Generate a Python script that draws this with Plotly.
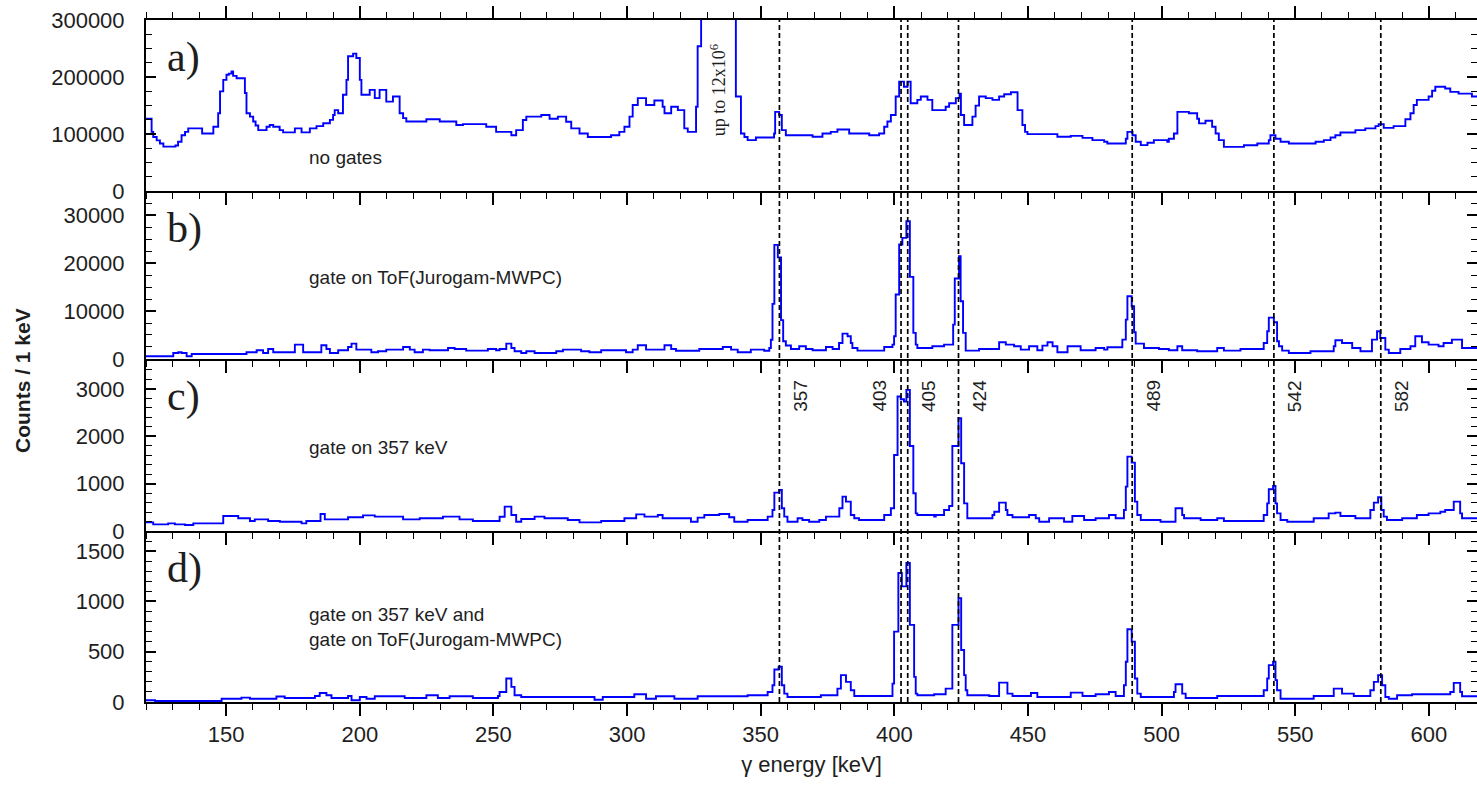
import plotly.graph_objects as go
from plotly.subplots import make_subplots

# ---------------- data (energy keV, counts) ----------------
spec_a = [(120, 127000), (122.1, 104000), (122.7, 95000), (124, 89000), (125.2, 83500), (126.5, 78000),
          (131, 80000), (132, 86500), (133.3, 98000), (134.6, 104000), (135.8, 110000), (141, 101000),
          (145.2, 113000), (147, 136500), (147.7, 175000), (148.9, 195000), (150.1, 204000), (151, 206000),
          (152, 210000), (152.6, 202000), (153.9, 198000), (157, 172000), (157.6, 136500), (158.9, 130600),
          (160.1, 122000), (161, 115000), (162, 107000), (165.1, 113000), (166.3, 116000), (167.6, 113000),
          (170, 107000), (171.3, 103000), (175.7, 110000), (178.2, 103000), (181.3, 110000), (183.8, 114000),
          (186.3, 119000), (188.8, 125000), (190, 133500), (190.6, 142000), (191.9, 136500), (193.7, 169000),
          (195, 195000), (195.6, 236500), (197.5, 241000), (198.7, 233500), (200, 195000), (200.6, 169000),
          (203.7, 177600), (205.6, 163000), (207.4, 177600), (209.9, 157000), (212.4, 166000), (214.9, 136500),
          (216.2, 128000), (217.4, 122000), (224.9, 126000), (229.9, 122000), (236.1, 116000), (238.6, 117600),
          (247.3, 113000), (251, 104000), (256.7, 98000), (258.5, 107000), (261, 124700), (262.3, 130600),
          (267.9, 133500), (271, 127000), (274.1, 130600), (277.2, 121800), (279.1, 110000), (282.2, 101000),
          (285.3, 95000), (294, 98000), (297.1, 104000), (299, 113000), (300.9, 130600), (302.1, 151000),
          (304, 163000), (307.1, 151000), (310.2, 159000), (313.3, 148000), (314, 136500), (316.5, 148000),
          (319, 142000), (321.4, 110000), (322.7, 104000), (325.8, 148000), (326.4, 254000), (327.7, 1200000),
          (340.7, 166000), (342.6, 101000), (343.9, 95000), (345.1, 89400), (348.2, 94000), (355, 101000),
          (355.4, 139000), (356.9, 133500), (357.9, 107000), (359.4, 98000), (369.4, 95300), (373.1, 101000),
          (376.2, 104000), (378.7, 108000), (383.1, 101000), (390.6, 98000), (394.3, 101000), (396.2, 113000),
          (397.4, 122000), (398.7, 133500), (400.5, 166000), (401.8, 192000), (403.6, 183000), (404.9, 192000),
          (406.1, 154000), (408.6, 160000), (409.9, 166000), (412.4, 160000), (414.2, 142000), (419.2, 148000),
          (420.5, 154000), (423, 163000), (424.4, 171000), (424.9, 133500), (426.1, 116000), (429.2, 130600),
          (430.4, 150000), (431.7, 166000), (434.2, 163000), (436.7, 160000), (439.2, 166000), (441.1, 170000),
          (443.6, 173500), (446.1, 142000), (447.9, 116000), (448.9, 104000), (449.8, 100000), (461, 95300),
          (466, 97000), (470.4, 93500), (474.1, 89400), (478.5, 86500), (479.7, 83500), (486.6, 92000),
          (487.2, 104000), (489.1, 98000), (490.3, 86500), (492.2, 80700), (494.7, 85000), (497.1, 89400),
          (502.1, 86500), (502.7, 92000), (504.6, 101000), (505.9, 139000), (510.2, 136500), (513.3, 127000),
          (514, 118800), (516.4, 123500), (518.9, 113000), (520.2, 101000), (521.4, 89400), (523.3, 77600),
          (530.8, 80500), (535.8, 83500), (540.1, 89400), (540.7, 98000), (542.6, 92000), (544.5, 86500),
          (547.6, 83500), (557.6, 86500), (560.7, 89400), (563.2, 94000), (565, 98000), (566.9, 102900),
          (572.5, 107000), (576.2, 110000), (580, 114000), (581.2, 117600), (583.1, 111000), (586.8, 114000),
          (591.2, 126000), (593.1, 136500), (594.3, 151000), (595.5, 160000), (599.9, 166000), (601.2, 176000),
          (602.4, 183000), (606.1, 180000), (608, 174000), (611.1, 171000), (616.1, 166000), (618, 166000)]

spec_b = [(120, 560), (130.2, 1250), (132.1, 1400), (133.3, 1250), (135.2, 560), (137.1, 1040), (157.6, 1400),
          (161.4, 1810), (163.8, 1250), (165.7, 2090), (167.6, 1390), (175.7, 2990), (178.8, 1390), (185.6, 2850),
          (187.5, 2090), (188.8, 1250), (191.9, 1810), (195.6, 2500), (196.9, 3200), (198.7, 1950), (204.3, 1390),
          (206.8, 1600), (209.9, 1950), (216.2, 2500), (218.7, 1950), (220.5, 1390), (223.6, 1950), (226.1, 1810),
          (233, 2300), (235.5, 2090), (239.8, 1740), (247.9, 2090), (251, 1810), (252.3, 2090), (254.8, 3200),
          (256.7, 2300), (257.9, 1600), (260.4, 1250), (262.3, 1600), (265.4, 1250), (273.5, 1600), (276, 1950),
          (282.8, 1600), (285.9, 1390), (290.3, 1810), (299.6, 1390), (302.1, 1950), (304, 2850), (307.1, 1950),
          (314, 2850), (316.5, 2090), (318.3, 1700), (327, 2090), (335.8, 2500), (338.9, 1950), (341.4, 1390),
          (346.3, 1950), (351.3, 1700), (353.2, 2300), (353.8, 4000), (354.4, 11500), (355.1, 23800),
          (356.4, 21200), (357.6, 8100), (358.4, 3700), (359.4, 2800), (361.3, 2090), (364.4, 2640),
          (366.9, 2090), (369.4, 1810), (374.4, 2500), (376.9, 2090), (379.3, 3340), (380.6, 5290),
          (382.5, 4730), (383.7, 3340), (384.3, 2300), (386.2, 1740), (396.2, 2500), (399.3, 2990),
          (399.9, 4730), (400.5, 13440), (401.8, 23870), (403, 25260), (404.5, 28740), (405.8, 17120),
          (407.1, 5430), (408, 2990), (408.6, 2300), (414.2, 2640), (418.6, 2990), (422, 7170), (422.6, 16780),
          (424.2, 21440), (424.8, 12040), (425.7, 5430), (426.7, 1740), (431.7, 2090), (439.2, 3480),
          (441.7, 2990), (444.8, 2640), (447.3, 1950), (450.4, 2640), (453.5, 1810), (455.4, 2780),
          (457.3, 3480), (459.2, 2640), (461, 1390), (464.8, 2640), (469.7, 1810), (475.3, 2300), (478.5, 1950),
          (479.7, 2440), (485.3, 4040), (486.6, 8210), (487.2, 13090), (488.8, 11000), (489.7, 5570),
          (490.3, 3200), (493.4, 2300), (499, 2090), (502.7, 1810), (505.9, 2640), (507.7, 1810), (513.3, 1600),
          (520.8, 2300), (523.3, 1740), (529.5, 2090), (538.2, 3340), (539.5, 5780), (540.1, 8630), (542, 7660),
          (543.2, 3700), (543.9, 2640), (545.1, 1740), (547.6, 1250), (555.7, 1600), (564.4, 2640), (565, 3900),
          (567.5, 3340), (571.3, 2300), (574.4, 1600), (578.7, 4040), (580.6, 5780), (581.8, 4380),
          (583.7, 1950), (585, 1250), (589.3, 2090), (593.1, 2640), (594.9, 4730), (597.4, 3480), (599.9, 2990),
          (603.6, 2640), (605.5, 3340), (608.6, 4040), (612.4, 2300), (618, 2300)]

spec_c = [(120, 183), (122.7, 141), (128.3, 162), (130.8, 141), (134.6, 127), (137.7, 162), (148.9, 317),
          (154.5, 268), (158.9, 211), (160.7, 246), (165.7, 211), (170.1, 197), (178.2, 162), (180, 211),
          (185.3, 359), (186.9, 246), (195.6, 289), (201.2, 331), (205.6, 303), (216.2, 246), (222.4, 268),
          (231.1, 303), (237.3, 246), (242.3, 211), (252.3, 300), (254.2, 514), (256.7, 338), (258.5, 197),
          (260.4, 253), (265.4, 303), (269.1, 268), (277.8, 232), (282.2, 183), (290.3, 211), (299, 268),
          (303.4, 352), (306.5, 303), (311.5, 338), (313.3, 268), (323.9, 197), (326.4, 282), (328.9, 338),
          (334.5, 359), (338.2, 289), (340.1, 197), (345.1, 232), (352.6, 303), (354.4, 444), (355.1, 810),
          (356.9, 866), (357.9, 479), (358.8, 303), (360, 197), (363.8, 268), (365.6, 232), (368.1, 197),
          (371.9, 232), (374.4, 303), (379.4, 479), (380.6, 725), (381.9, 620), (383.7, 338), (385, 268),
          (386.8, 232), (396.2, 338), (398.7, 479), (399.9, 1605), (401.2, 2837), (402.4, 2781), (403.6, 2732),
          (404.5, 2978), (405.8, 1795), (407.1, 796), (408, 373), (408.6, 338), (414.9, 303), (415.5, 338),
          (418.6, 444), (420.5, 528), (421.7, 1795), (424, 2380), (425, 1429), (426.1, 584), (427.3, 268),
          (436.7, 338), (437.4, 408), (439.2, 598), (441.7, 444), (442.3, 338), (444.2, 289), (450.4, 338),
          (452.9, 268), (454.2, 197), (457.9, 268), (463.5, 197), (466.6, 317), (471, 232), (475.3, 268),
          (480.3, 338), (482.8, 268), (485.9, 444), (486.6, 937), (487.2, 1570), (488.8, 1443), (490, 620),
          (490.9, 338), (492.2, 232), (499.6, 197), (505.2, 479), (507.7, 338), (508.4, 268), (514.6, 232),
          (520.8, 268), (523.3, 211), (538.2, 338), (539.5, 584), (540.1, 880), (541.7, 950), (542.6, 584),
          (543.2, 373), (544.5, 232), (547, 197), (556.9, 268), (562.5, 373), (565, 387), (566.9, 317),
          (572.5, 268), (578.1, 444), (579.4, 598), (581, 711), (582.2, 444), (583.1, 303), (584.3, 232),
          (590, 268), (595.5, 338), (599.9, 373), (604.3, 408), (606.1, 444), (609.3, 620), (611.7, 373),
          (612.4, 268), (618, 268)]

spec_d = [(120, 17), (123.4, 10), (148.3, 33), (155.7, 43), (158.9, 33), (168.8, 55), (171.9, 40), (183.2, 60),
          (185, 90), (187.5, 67), (189.4, 40), (195.6, 60), (196.9, 17), (200, 50), (202.5, 33), (205.6, 57),
          (216.8, 40), (224.9, 67), (229.2, 40), (233.6, 57), (242.3, 40), (251.7, 60), (252.3, 100),
          (254.8, 233), (256.7, 150), (257.9, 67), (260.4, 50), (287.8, 23), (290.9, 50), (302.7, 77),
          (307.1, 33), (310.8, 57), (317.7, 33), (326.4, 57), (345.1, 67), (352.6, 100), (354.4, 167),
          (355.1, 323), (356.7, 350), (357.9, 167), (358.8, 83), (360, 50), (372.5, 67), (378.7, 133),
          (380, 267), (381.9, 200), (383.7, 117), (385, 60), (399.3, 183), (399.9, 700), (401.5, 1283),
          (402.8, 1150), (404.5, 1383), (405.8, 767), (407.4, 250), (408, 83), (408.6, 67), (414.9, 77),
          (419.2, 133), (421.7, 767), (424, 1033), (425, 517), (426.1, 267), (426.7, 117), (427.3, 67),
          (435.5, 60), (439.2, 193), (442.3, 83), (444.2, 60), (451.1, 90), (453.5, 50), (466, 93), (470.4, 60),
          (475.3, 77), (480.3, 100), (482.8, 60), (485.9, 167), (486.6, 400), (487.2, 723), (488.8, 600),
          (490, 233), (490.9, 83), (492.2, 50), (504.6, 100), (505.2, 177), (507.7, 83), (509, 40), (520.8, 60),
          (538.2, 117), (539.5, 233), (540.1, 367), (541.7, 400), (542.6, 217), (543.2, 117), (544.5, 33),
          (556.9, 60), (564.4, 133), (567.5, 83), (571.9, 60), (578.1, 117), (579.4, 200), (581, 267),
          (582.5, 167), (583.7, 50), (585, 33), (588.1, 67), (593.7, 77), (608, 100), (609.3, 190),
          (611.7, 100), (612.4, 57), (618, 57)]

panel_letters = ["a)", "b)", "c)", "d)"]
panel_notes = ["no gates",
               "gate on ToF(Jurogam-MWPC)",
               "gate on 357 keV",
               "gate on 357 keV and<br>gate on ToF(Jurogam-MWPC)"]
y_max = [300000, 35000, 3630, 1700]
y_major = [100000, 10000, 1000, 500]
y_minor = [25000, 2500, 200, 100]

line_energies = [357, 402.5, 405, 424, 489, 542, 582]
line_labels = ["357", "403", "405", "424", "489", "542", "582"]
label_side = [1, -1, 1, 1, 1, 1, 1]

x_range = [120, 618]
offscale_note = "up to 12x10<sup>6</sup>"
offscale_energy = 334

# ---------------- figure ----------------
spectra = [spec_a, spec_b, spec_c, spec_d]
fig = make_subplots(rows=4, cols=1, shared_xaxes=True, vertical_spacing=0)

domains = [[0.749, 1.0], [0.503, 0.749], [0.2507, 0.503], [0.0, 0.2507]]
TXT = "#1e1e1e"
SANS = "Liberation Sans, Arial, sans-serif"
SERIF = "Liberation Serif, Times New Roman, serif"

for i, spec in enumerate(spectra):
    ex = [p[0] for p in spec]
    cy = [p[1] for p in spec]
    fig.add_trace(go.Scatter(x=ex, y=cy, mode="lines",
                             line=dict(color="#0000ff", width=1.9, shape="hv"),
                             showlegend=False, hoverinfo="skip"),
                  row=i + 1, col=1)

for i in range(4):
    sfx = "" if i == 0 else str(i + 1)
    fig.layout["yaxis" + sfx].update(
        domain=domains[i], range=[0, y_max[i]], tick0=0, dtick=y_major[i],
        tickformat="d", exponentformat="none",
        showgrid=False, zeroline=False, showline=True, linecolor="black", linewidth=2,
        mirror="ticks", ticks="inside", ticklen=10, tickwidth=1.6, tickcolor="black",
        minor=dict(dtick=y_minor[i], ticks="inside", ticklen=6, tickwidth=1.3, tickcolor="black"),
        tickfont=dict(size=22, color=TXT, family=SANS), ticklabelstandoff=15,
    )
    fig.layout["xaxis" + sfx].update(
        range=x_range, tick0=0, dtick=50, showgrid=False, zeroline=False,
        showline=True, linecolor="black", linewidth=2,
        mirror="ticks" if i == 0 else False,
        ticks="outside", ticklen=12, tickwidth=1.6, tickcolor="black",
        minor=dict(dtick=10, ticks="outside", ticklen=6, tickwidth=1.3, tickcolor="black"),
        tickfont=dict(size=22, color=TXT, family=SANS),
    )

fig.layout.xaxis4.update(title=dict(text="γ energy [keV]", font=dict(size=22, color=TXT, family=SANS),
                                    standoff=10))

annotations = []
for i in range(4):
    sfx = "" if i == 0 else str(i + 1)
    annotations.append(dict(text=panel_letters[i], xref="x" + sfx + " domain", yref="y" + sfx + " domain",
                            x=0.014, y=0.78, xanchor="left", yanchor="middle", showarrow=False,
                            font=dict(size=42, color=TXT, family=SERIF)))
note_y = [0.196, 0.488, 0.488, 0.44]
for i in range(4):
    sfx = "" if i == 0 else str(i + 1)
    annotations.append(dict(text=panel_notes[i], xref="x" + sfx + " domain", yref="y" + sfx + " domain",
                            x=0.121, y=note_y[i], xanchor="left", yanchor="middle", showarrow=False,
                            align="left", font=dict(size=19, color=TXT, family=SANS)))

annotations.append(dict(text=offscale_note, xref="x", yref="y domain", x=offscale_energy, y=0.59,
                        textangle=-90, showarrow=False, xanchor="center", yanchor="middle",
                        font=dict(size=18, color=TXT, family=SERIF)))

for e, lab, side in zip(line_energies, line_labels, label_side):
    annotations.append(dict(text=lab, xref="x3", yref="y3 domain", x=e + 8 * side, y=0.785,
                            textangle=-90, showarrow=False, xanchor="center", yanchor="middle",
                            font=dict(size=19, color=TXT, family=SANS)))

annotations.append(dict(text="<b>Counts / 1 keV</b>", xref="paper", yref="paper", x=-0.0924, y=0.4707,
                        textangle=-90, showarrow=False, xanchor="center", yanchor="middle",
                        font=dict(size=21, color=TXT, family=SANS)))

shapes = [dict(type="line", xref="x4", yref="paper", x0=e, x1=e, y0=0, y1=1,
               line=dict(color="black", width=1.7, dash="5px,3px")) for e in line_energies]

fig.update_layout(width=1477, height=785, margin=dict(l=146, r=0, t=20, b=83, autoexpand=False),
                  paper_bgcolor="white", plot_bgcolor="white", showlegend=False,
                  font=dict(family=SANS, color=TXT), annotations=annotations, shapes=shapes)

fig.write_html("out.html", config={"displayModeBar": False},
               post_script="document.body.style.margin='0';document.body.style.overflow='hidden';")
